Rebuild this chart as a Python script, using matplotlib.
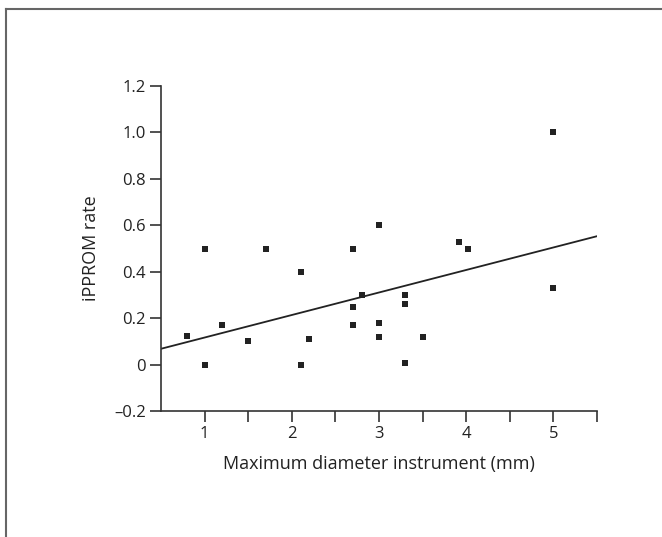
import matplotlib as mpl
mpl.use('Agg')
import matplotlib.pyplot as plt
from matplotlib.lines import Line2D
import numpy as np

plt.rcParams['font.family'] = ['Open Sans', 'DejaVu Sans']

# data
diameter = [0.8, 1.0, 1.0, 1.2, 1.5, 1.7, 2.1, 2.1, 2.2, 2.7, 2.7, 2.7, 2.8,
            3.0, 3.0, 3.0, 3.3, 3.3, 3.3, 3.5, 3.92, 4.02, 5.0, 5.0]
ipprom_rate = [0.125, 0.5, 0.0, 0.17, 0.1, 0.5, 0.4, 0.0, 0.11, 0.5, 0.25, 0.17, 0.3,
               0.6, 0.18, 0.12, 0.3, 0.26, 0.005, 0.12, 0.53, 0.5, 1.0, 0.33]
fit_x = [0.5, 5.5]
fit_y = [0.068, 0.553]

x_ticks = [1, 2, 3, 4, 5]
x_minor = [1.5, 2.5, 3.5, 4.5, 5.5]
y_ticks = [-0.2, 0, 0.2, 0.4, 0.6, 0.8, 1.0, 1.2]
y_labels = ['\u20130.2', '0', '0.2', '0.4', '0.6', '0.8', '1.0', '1.2']

W, H = 662, 537
fig = plt.figure(figsize=(W / 100, H / 100), dpi=100)
ax = fig.add_axes([161 / W, 1 - 411 / H, (597 - 161) / W, (411 - 86) / H])

ax.scatter(diameter, ipprom_rate, marker='s', s=13, color='#222222', linewidths=0, zorder=3)
ax.plot(fit_x, fit_y, color='#222222', lw=1.3)

ax.set_xlim(0.5, 5.5)
ax.set_ylim(-0.2, 1.2)
ax.set_xticks(x_ticks)
ax.set_xticks(x_minor, minor=True)
ax.set_yticks(y_ticks)
ax.set_yticklabels(y_labels)

for side in ['top', 'right']:
    ax.spines[side].set_visible(False)
for side in ['left', 'bottom']:
    ax.spines[side].set_color('#333333')
    ax.spines[side].set_linewidth(1.2)
ax.tick_params(axis='x', which='both', direction='out', length=8, width=1.2, color='#333333',
               labelsize=12, pad=3, labelcolor='#222222')
ax.tick_params(axis='y', direction='out', length=8, width=1.2, color='#333333',
               labelsize=12, pad=3, labelcolor='#222222')

ax.set_xlabel('Maximum diameter instrument (mm)', fontsize=13, labelpad=9, color='#222222')
ax.set_ylabel('iPPROM rate', fontsize=13, labelpad=10, color='#222222')

# outer frame (top and left edges only visible)
fig.add_artist(Line2D([5.5 / W, 1], [1 - 9 / H, 1 - 9 / H], color='#666666', lw=1.5,
                      transform=fig.transFigure))
fig.add_artist(Line2D([5.5 / W, 5.5 / W], [0, 1 - 9 / H], color='#666666', lw=1.5,
                      transform=fig.transFigure))

fig.savefig('out.png', dpi=100)
